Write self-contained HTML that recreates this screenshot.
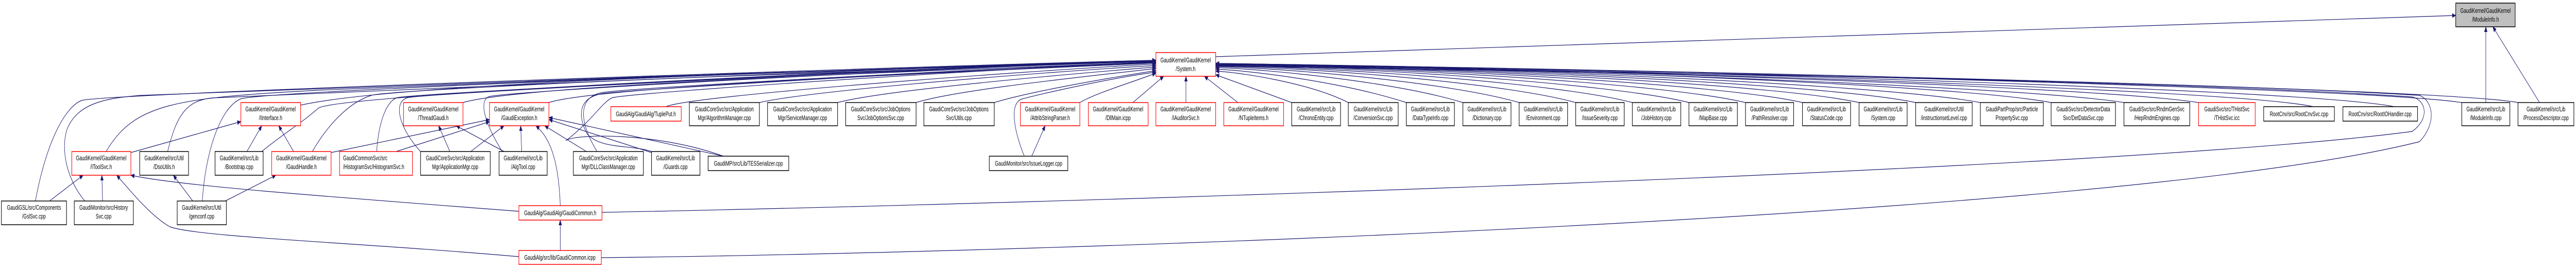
<!DOCTYPE html>
<html><head><meta charset="utf-8"><style>
html,body{margin:0;padding:0;background:#fff;width:100vw;height:100vh;overflow:hidden;}
svg{display:block;width:100vw;height:100vh;}
text{font-family:"Liberation Sans",Arial,sans-serif;font-size:12.5px;fill:#000;}
.e{fill:none;stroke:#191970;stroke-width:1.2;}
.r{fill:#fff;stroke:#ff0000;stroke-width:1.5;}
.b{fill:#fff;stroke:#000;stroke-width:1.5;}
</style></head><body>
<svg width="100%" height="100%" viewBox="0 0 7283 520" preserveAspectRatio="none" xmlns="http://www.w3.org/2000/svg">
<defs><marker id="a" markerWidth="11" markerHeight="9" refX="10" refY="4.5" orient="auto" markerUnits="userSpaceOnUse"><path d="M0,0 L11,4.5 L0,9z" fill="#191970"/></marker></defs>
<g class="e" marker-end="url(#a)">
<path d="M850,204 C1200,150 2900,130 3268,118"/>
<path d="M1309,199 C1500,160 2900,132 3268,120"/>
<path d="M1552,199 C1700,165 2900,135 3268,122"/>
<path d="M1883,207 C1950,185 2900,138 3268,124"/>
<path d="M2147,199 C2300,175 2950,140 3268,127"/>
<path d="M2368,199 C2500,175 3000,145 3268,130"/>
<path d="M2590,199 C2700,175 3050,150 3268,133"/>
<path d="M2811,199 C2900,180 3100,155 3268,137"/>
<path d="M3053,199 C3100,180 3200,160 3268,142"/>
<path d="M3203,199 L3290,148"/>
<path d="M3353,199 L3353,148"/>
<path d="M3500,199 L3405,148"/>
<path d="M3652,199 L3437,145"/>
<path d="M3812,199 C3700,160 3500,140 3437,138"/>
<path d="M3976,199 C3800,160 3550,138 3437,134"/>
<path d="M4136,199 C3950,160 3600,135 3437,131"/>
<path d="M4295,199 C4100,160 3650,133 3437,129"/>
<path d="M4455,199 C4250,160 3700,131 3437,128"/>
<path d="M4615,199 C4400,160 3750,130 3437,127"/>
<path d="M4775,199 C4550,160 3800,129 3437,126"/>
<path d="M4935,199 C4700,160 3850,128 3437,126"/>
<path d="M5096,199 C4850,160 3900,128 3437,125"/>
<path d="M5256,199 C5000,160 3950,128 3437,125"/>
<path d="M5416,199 C5150,160 4000,128 3437,125"/>
<path d="M5599,199 C5300,160 4050,128 3437,124"/>
<path d="M5799,199 C5500,160 4100,128 3437,124"/>
<path d="M6005,199 C5700,165 4150,130 3437,124"/>
<path d="M6216,199 C5900,165 4200,130 3437,124"/>
<path d="M6540,207 C6300,170 4300,132 3437,124"/>
<path d="M6770,207 C6500,170 4400,132 3437,124"/>
<path d="M6960,199 C6700,170 4500,133 3437,123"/>
<path d="M7119,199 C6900,170 4600,134 3437,123"/>
<path d="M3437,110 L6943,30"/>
<path d="M7028,199 L7028,52"/>
<path d="M7180,199 L7048,52"/>
<path d="M370,296 L681,236"/>
<path d="M300,294 C380,200 500,190 900,175 S3000,120 3268,119"/>
<path d="M474,294 C500,220 530,195 600,190 S3000,120 3268,119"/>
<path d="M698,294 L740,244"/>
<path d="M740,294 C800,260 850,240 900,210 S3000,120 3268,119"/>
<path d="M830,294 L788,244"/>
<path d="M883,294 C920,250 980,200 1050,185 S3000,120 3268,119"/>
<path d="M936,296 L1384,232"/>
<path d="M1120,294 L1384,236"/>
<path d="M1065,294 C1070,240 1090,200 1120,190 S3000,120 3268,119"/>
<path d="M1272,294 L1240,244"/>
<path d="M1331,294 L1425,244"/>
<path d="M1189,294 C1130,250 1110,200 1150,190 S3000,120 3268,119"/>
<path d="M1425,294 L1290,244"/>
<path d="M1475,294 L1472,244"/>
<path d="M1420,294 C1380,250 1350,200 1380,188 S3000,120 3268,120"/>
<path d="M1658,294 L1540,244"/>
<path d="M1688,294 C1640,240 1630,190 1700,180 S3000,125 3268,122"/>
<path d="M1842,296 L1552,232"/>
<path d="M1842,294 C1780,280 1700,290 1660,260 C1630,220 1640,190 1700,182 S3000,125 3268,121"/>
<path d="M2045,303 L1552,228"/>
<path d="M2045,303 C1850,255 1620,260 1600,273 C1680,230 1700,200 1730,190 S3000,125 3268,122"/>
<path d="M2917,303 L2955,244"/>
<path d="M2896,303 C2870,260 2850,200 2890,192 S3150,150 3268,140"/>
<path d="M140,390 L235,340"/>
<path d="M100,390 C130,280 180,210 230,195 S3000,120 3268,117"/>
<path d="M290,390 L288,340"/>
<path d="M240,390 C190,350 170,290 190,250 C220,200 300,190 400,185 S3000,120 3268,117"/>
<path d="M545,390 L490,340"/>
<path d="M637,390 L780,340"/>
<path d="M572,390 C580,300 620,210 680,192 S3000,120 3268,118"/>
<path d="M1467,410 C900,380 500,360 370,340"/>
<path d="M1584,399 C1580,320 1560,270 1515,244"/>
<path d="M1702,412 C3000,395 6000,330 6820,255 C6870,230 6860,195 6820,188 C6000,150 4000,135 3437,128"/>
<path d="M1700,500 C3000,490 6000,420 6840,275 C6890,240 6880,195 6840,185 C6000,150 4000,135 3437,128"/>
<path d="M1584,486 L1584,427"/>
<path d="M1467,498 C1000,470 560,460 480,440 C430,420 380,380 330,340"/>
</g>
<rect x="6943" y="6" width="168" height="46" fill="#bfbfbf" stroke="#000" stroke-width="1.5"/>
<text x="7027" y="25" text-anchor="middle">GaudiKernel/GaudiKernel</text><text x="7027" y="42" text-anchor="middle">/ModuleInfo.h</text>
<rect class="r" x="3268" y="102" width="169" height="46"/>
<text x="3352" y="121" text-anchor="middle">GaudiKernel/GaudiKernel</text><text x="3352" y="138" text-anchor="middle">/System.h</text>

<g text-anchor="middle">
<rect class="r" x="681" y="199" width="169" height="45"/><text x="765" y="216">GaudiKernel/GaudiKernel</text><text x="765" y="233">/IInterface.h</text>
<rect class="r" x="1141" y="199" width="168" height="45"/><text x="1225" y="216">GaudiKernel/GaudiKernel</text><text x="1225" y="233">/ThreadGaudi.h</text>
<rect class="r" x="1384" y="199" width="168" height="45"/><text x="1468" y="216">GaudiKernel/GaudiKernel</text><text x="1468" y="233">/GaudiException.h</text>
<rect class="r" x="1727" y="207" width="199" height="28"/><text x="1826" y="225.5">GaudiAlg/GaudiAlg/TuplePut.h</text>
<rect class="b" x="1949" y="199" width="198" height="45"/><text x="2048" y="216">GaudiCoreSvc/src/Application</text><text x="2048" y="233">Mgr/AlgorithmManager.cpp</text>
<rect class="b" x="2170" y="199" width="198" height="45"/><text x="2269" y="216">GaudiCoreSvc/src/Application</text><text x="2269" y="233">Mgr/ServiceManager.cpp</text>
<rect class="b" x="2391" y="199" width="199" height="45"/><text x="2490" y="216">GaudiCoreSvc/src/JobOptions</text><text x="2490" y="233">Svc/JobOptionsSvc.cpp</text>
<rect class="b" x="2612" y="199" width="199" height="45"/><text x="2711" y="216">GaudiCoreSvc/src/JobOptions</text><text x="2711" y="233">Svc/Utils.cpp</text>
<rect class="r" x="2885" y="199" width="168" height="45"/><text x="2969" y="216">GaudiKernel/GaudiKernel</text><text x="2969" y="233">/AttribStringParser.h</text>
<rect class="r" x="3077" y="199" width="169" height="45"/><text x="3161" y="216">GaudiKernel/GaudiKernel</text><text x="3161" y="233">/DllMain.icpp</text>
<rect class="r" x="3268" y="199" width="169" height="45"/><text x="3352" y="216">GaudiKernel/GaudiKernel</text><text x="3352" y="233">/IAuditorSvc.h</text>
<rect class="r" x="3460" y="199" width="169" height="45"/><text x="3544" y="216">GaudiKernel/GaudiKernel</text><text x="3544" y="233">/NTupleItems.h</text>
<rect class="b" x="3652" y="199" width="138" height="45"/><text x="3721" y="216">GaudiKernel/src/Lib</text><text x="3721" y="233">/ChronoEntity.cpp</text>
<rect class="b" x="3812" y="199" width="141" height="45"/><text x="3882" y="216">GaudiKernel/src/Lib</text><text x="3882" y="233">/ConversionSvc.cpp</text>
<rect class="b" x="3976" y="199" width="136" height="45"/><text x="4044" y="216">GaudiKernel/src/Lib</text><text x="4044" y="233">/DataTypeInfo.cpp</text>
<rect class="b" x="4136" y="199" width="136" height="45"/><text x="4204" y="216">GaudiKernel/src/Lib</text><text x="4204" y="233">/Dictionary.cpp</text>
<rect class="b" x="4295" y="199" width="137" height="45"/><text x="4363" y="216">GaudiKernel/src/Lib</text><text x="4363" y="233">/Environment.cpp</text>
<rect class="b" x="4455" y="199" width="137" height="45"/><text x="4523" y="216">GaudiKernel/src/Lib</text><text x="4523" y="233">/IssueSeverity.cpp</text>
<rect class="b" x="4615" y="199" width="137" height="45"/><text x="4683" y="216">GaudiKernel/src/Lib</text><text x="4683" y="233">/JobHistory.cpp</text>
<rect class="b" x="4775" y="199" width="137" height="45"/><text x="4843" y="216">GaudiKernel/src/Lib</text><text x="4843" y="233">/MapBase.cpp</text>
<rect class="b" x="4935" y="199" width="136" height="45"/><text x="5003" y="216">GaudiKernel/src/Lib</text><text x="5003" y="233">/PathResolver.cpp</text>
<rect class="b" x="5096" y="199" width="136" height="45"/><text x="5164" y="216">GaudiKernel/src/Lib</text><text x="5164" y="233">/StatusCode.cpp</text>
<rect class="b" x="5256" y="199" width="136" height="45"/><text x="5324" y="216">GaudiKernel/src/Lib</text><text x="5324" y="233">/System.cpp</text>
<rect class="b" x="5416" y="199" width="160" height="45"/><text x="5496" y="216">GaudiKernel/src/Util</text><text x="5496" y="233">/instructionsetLevel.cpp</text>
<rect class="b" x="5599" y="199" width="178" height="45"/><text x="5688" y="216">GaudiPartProp/src/Particle</text><text x="5688" y="233">PropertySvc.cpp</text>
<rect class="b" x="5799" y="199" width="182" height="45"/><text x="5890" y="216">GaudiSvc/src/DetectorData</text><text x="5890" y="233">Svc/DetDataSvc.cpp</text>
<rect class="b" x="6005" y="199" width="186" height="45"/><text x="6098" y="216">GaudiSvc/src/RndmGenSvc</text><text x="6098" y="233">/HepRndmEngines.cpp</text>
<rect class="r" x="6216" y="199" width="160" height="45"/><text x="6296" y="216">GaudiSvc/src/THistSvc</text><text x="6296" y="233">/THistSvc.icc</text>
<rect class="b" x="6400" y="207" width="200" height="28"/><text x="6500" y="225.5">RootCnv/src/RootCnvSvc.cpp</text>
<rect class="b" x="6624" y="207" width="211" height="28"/><text x="6729" y="225.5">RootCnv/src/RootIOHandler.cpp</text>
<rect class="b" x="6960" y="199" width="136" height="45"/><text x="7028" y="216">GaudiKernel/src/Lib</text><text x="7028" y="233">/ModuleInfo.cpp</text>
<rect class="b" x="7119" y="199" width="158" height="45"/><text x="7198" y="216">GaudiKernel/src/Lib</text><text x="7198" y="233">/ProcessDescriptor.cpp</text>

<rect class="r" x="203" y="294" width="167" height="46"/><text x="286" y="311">GaudiKernel/GaudiKernel</text><text x="286" y="328">/IToolSvc.h</text>
<rect class="b" x="395" y="294" width="138" height="46"/><text x="464" y="311">GaudiKernel/src/Util</text><text x="464" y="328">/DsoUtils.h</text>
<rect class="b" x="608" y="294" width="136" height="46"/><text x="676" y="311">GaudiKernel/src/Lib</text><text x="676" y="328">/Bootstrap.cpp</text>
<rect class="r" x="768" y="294" width="168" height="46"/><text x="852" y="311">GaudiKernel/GaudiKernel</text><text x="852" y="328">/GaudiHandle.h</text>
<rect class="r" x="960" y="294" width="206" height="46"/><text x="970" y="311" text-anchor="start">GaudiCommonSvc/src</text><text x="970" y="328" text-anchor="start">/HistogramSvc/HistogramSvc.h</text>
<rect class="b" x="1189" y="294" width="197" height="46"/><text x="1287" y="311">GaudiCoreSvc/src/Application</text><text x="1287" y="328">Mgr/ApplicationMgr.cpp</text>
<rect class="b" x="1411" y="294" width="136" height="46"/><text x="1479" y="311">GaudiKernel/src/Lib</text><text x="1479" y="328">/AlgTool.cpp</text>
<rect class="b" x="1621" y="294" width="198" height="46"/><text x="1720" y="311">GaudiCoreSvc/src/Application</text><text x="1720" y="328">Mgr/DLLClassManager.cpp</text>
<rect class="b" x="1842" y="294" width="137" height="46"/><text x="1910" y="311">GaudiKernel/src/Lib</text><text x="1910" y="328">/Guards.cpp</text>
<rect class="b" x="2002" y="303" width="228" height="28"/><text x="2116" y="321.5">GaudiMP/src/Lib/TESSerializer.cpp</text>
<rect class="b" x="2797" y="303" width="222" height="28"/><text x="2908" y="321.5">GaudiMonitor/src/IssueLogger.cpp</text>

<rect class="b" x="4" y="390" width="184" height="46"/><text x="96" y="407">GaudiGSL/src/Components</text><text x="96" y="424">/GslSvc.cpp</text>
<rect class="b" x="210" y="390" width="167" height="46"/><text x="293" y="407">GaudiMonitor/src/History</text><text x="293" y="424">Svc.cpp</text>
<rect class="b" x="501" y="390" width="139" height="46"/><text x="570" y="407">GaudiKernel/src/Util</text><text x="570" y="424">/genconf.cpp</text>
<rect class="r" x="1467" y="399" width="235" height="28"/><text x="1584" y="417.5">GaudiAlg/GaudiAlg/GaudiCommon.h</text>
<rect class="r" x="1467" y="486" width="233" height="27"/><text x="1583" y="504">GaudiAlg/src/lib/GaudiCommon.icpp</text>
</g>
</svg>
</body></html>
